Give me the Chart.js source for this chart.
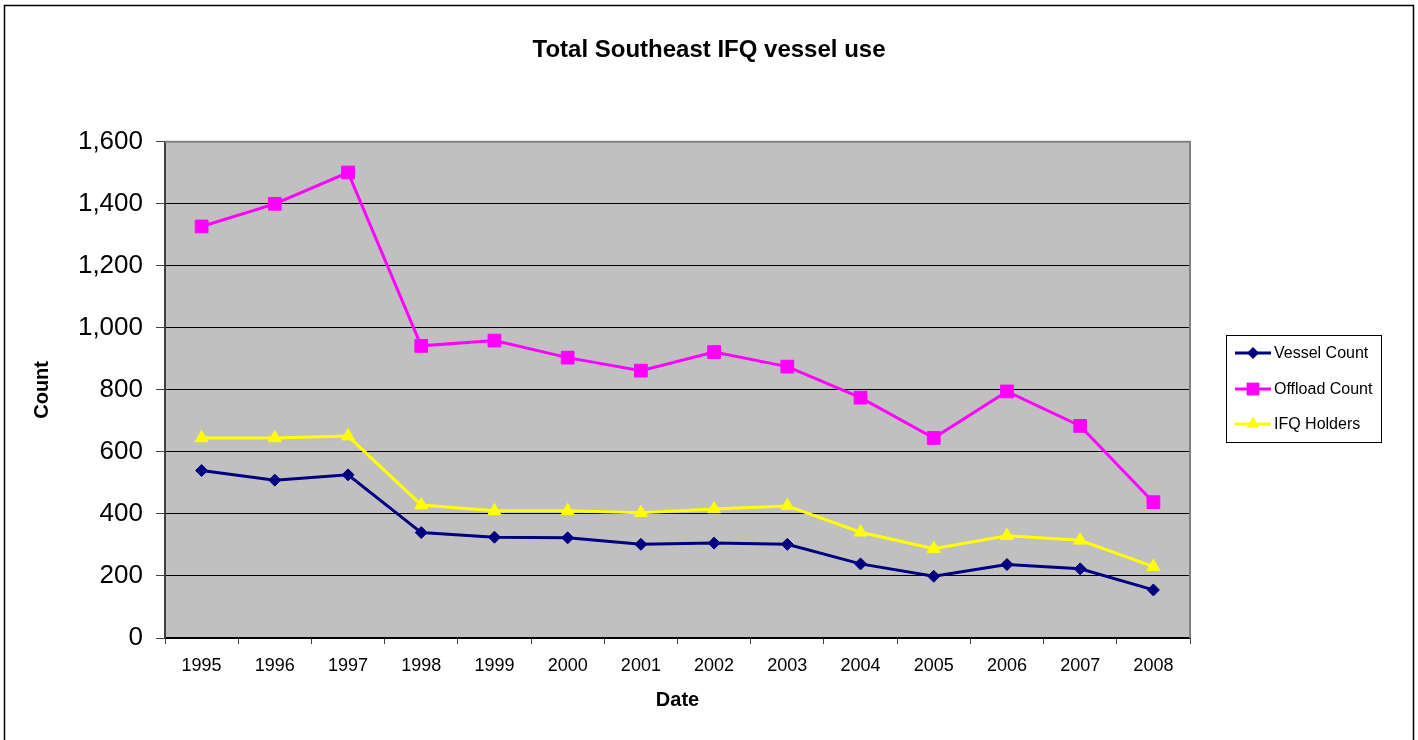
<!DOCTYPE html>
<html>
<head>
<meta charset="utf-8">
<title>Total Southeast IFQ vessel use</title>
<script src="https://cdn.jsdelivr.net/npm/chart.js@4/dist/chart.umd.min.js"></script>
<style>
  html, body { margin: 0; padding: 0; background: #fff; }
  canvas { display: block; }
</style>
</head>
<body>
<canvas id="myChart" width="1418" height="740"></canvas>
<script>
const years = ['1995', '1996', '1997', '1998', '1999', '2000', '2001', '2002', '2003', '2004', '2005', '2006', '2007', '2008'];
const vesselCount = [540, 509, 526, 340, 325, 323, 302, 306, 302, 239, 199, 237, 223, 155];
const offloadCount = [1327, 1400, 1501, 942, 959, 904, 862, 922, 875, 775, 645, 795, 684, 438];
const ifqHolders = [645, 645, 651, 429, 410, 410, 404, 416, 426, 341, 288, 330, 315, 230];
const seriesNames = ['Vessel Count', 'Offload Count', 'IFQ Holders'];

document.addEventListener("DOMContentLoaded", function () {
    const ctx = document.getElementById('myChart').getContext('2d');

    // page frame, grey plot area and its border
    const framePlugin = {
        id: 'frame',
        beforeDraw(chart) {
            const c = chart.ctx;
            const a = chart.chartArea;
            c.save();
            c.fillStyle = '#fff';
            c.fillRect(0, 0, chart.width, chart.height);
            c.fillStyle = '#C0C0C0';
            c.fillRect(a.left, a.top, a.right - a.left, a.bottom - a.top);
            c.strokeStyle = '#000';
            c.lineWidth = 1.5;
            c.strokeRect(4.5, 5.5, 1409, 800);
            c.restore();
        },
        afterDatasetsDraw(chart) {
            const c = chart.ctx;
            const a = chart.chartArea;
            c.save();
            c.strokeStyle = '#808080';
            c.lineWidth = 2;
            c.beginPath();
            c.moveTo(a.left, a.top);
            c.lineTo(a.right, a.top);
            c.lineTo(a.right, a.bottom);
            c.stroke();
            c.restore();
        }
    };

    function drawMarker(c, style, x, y, r, color) {
        c.fillStyle = color;
        c.beginPath();
        if (style === 'rectRot') {
            c.moveTo(x, y - r); c.lineTo(x + r, y); c.lineTo(x, y + r); c.lineTo(x - r, y);
        } else if (style === 'rect') {
            const s = r * Math.SQRT1_2;
            c.rect(x - s, y - s, 2 * s, 2 * s);
        } else {
            const h = r * 0.866;
            c.moveTo(x, y - r); c.lineTo(x + h, y + r / 2); c.lineTo(x - h, y + r / 2);
        }
        c.closePath();
        c.fill();
    }

    // boxed legend to the right of the plot, line + marker per series
    const legendPlugin = {
        id: 'boxLegend',
        afterDraw(chart) {
            const c = chart.ctx;
            c.save();
            c.strokeStyle = '#000';
            c.lineWidth = 1;
            c.strokeRect(1226.5, 335.5, 155, 107);
            const rows = [353, 389, 424];
            chart.data.datasets.forEach(function (ds, i) {
                const y = rows[i];
                c.strokeStyle = ds.borderColor;
                c.lineWidth = 3;
                c.beginPath();
                c.moveTo(1235, y);
                c.lineTo(1271, y);
                c.stroke();
                drawMarker(c, ds.pointStyle, 1253, y, ds.pointRadius, ds.borderColor);
                c.fillStyle = '#000';
                c.font = '16px Arial, "Liberation Sans", sans-serif';
                c.textBaseline = 'middle';
                c.textAlign = 'left';
                c.fillText(ds.label, 1274, y + 1);
            });
            c.restore();
        }
    };

    const data = {
        labels: years,
        datasets: [{
            label: seriesNames[0],
            data: vesselCount,
            borderColor: '#000080',
            backgroundColor: '#000080',
            pointStyle: 'rectRot',
            pointRadius: 6,
        }, {
            label: seriesNames[1],
            data: offloadCount,
            borderColor: '#FF00FF',
            backgroundColor: '#FF00FF',
            pointStyle: 'rect',
            pointRadius: 9,
        }, {
            label: seriesNames[2],
            data: ifqHolders,
            borderColor: '#FFFF00',
            backgroundColor: '#FFFF00',
            pointStyle: 'triangle',
            pointRadius: 7.5,
        }]
    };
    data.datasets.forEach(function (ds) {
        ds.borderWidth = 3;
        ds.pointBorderWidth = 1;
        ds.pointHoverRadius = ds.pointRadius;
        ds.tension = 0;
    });

    const config = {
        type: 'line',
        data: data,
        options: {
            responsive: false,
            animation: false,
            layout: { padding: 0 },
            plugins: {
                legend: { display: false },
                tooltip: { enabled: false },
                title: {
                    display: true,
                    text: 'Total Southeast IFQ vessel use',
                    color: '#000',
                    font: { family: 'Arial, "Liberation Sans", sans-serif', size: 24, weight: 'bold' },
                    padding: { top: 36, bottom: 77 }
                }
            },
            scales: {
                x: {
                    offset: true,
                    grid: { offset: true, drawOnChartArea: false, tickLength: 6, tickColor: '#404040', tickWidth: 1 },
                    border: { color: '#000', width: 1.5 },
                    ticks: {
                        color: '#000',
                        padding: 11,
                        maxRotation: 0,
                        font: { family: 'Arial, "Liberation Sans", sans-serif', size: 18 }
                    },
                    title: {
                        display: true,
                        text: 'Date',
                        color: '#000',
                        font: { family: 'Arial, "Liberation Sans", sans-serif', size: 20, weight: 'bold' },
                        padding: { top: 0, bottom: 28 }
                    },
                    afterFit: function (scale) { scale.height = 102; }
                },
                y: {
                    min: 0,
                    max: 1600,
                    grid: { color: '#000', lineWidth: 1, tickLength: 9, tickColor: '#404040' },
                    border: { color: '#404040', width: 2 },
                    ticks: {
                        stepSize: 200,
                        color: '#000',
                        padding: 13,
                        font: { family: 'Arial, "Liberation Sans", sans-serif', size: 26 },
                        callback: function (v) { return Number(v).toLocaleString('en-US'); }
                    },
                    title: {
                        display: true,
                        text: 'Count',
                        color: '#000',
                        font: { family: 'Arial, "Liberation Sans", sans-serif', size: 20, weight: 'bold' },
                        padding: { top: 30, bottom: 0 }
                    },
                    afterFit: function (scale) { scale.width = 165; }
                },
                // empty right-hand axis: only reserves the room where the legend box sits
                legendRoom: {
                    position: 'right',
                    grid: { display: false },
                    border: { display: false },
                    ticks: { display: false },
                    afterFit: function (scale) { scale.width = 228; }
                }
            }
        },
        plugins: [framePlugin, legendPlugin]
    };

    new Chart(ctx, config);
});
</script>
</body>
</html>
